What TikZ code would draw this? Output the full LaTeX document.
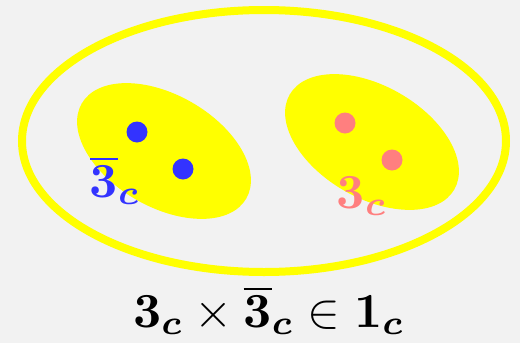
\documentclass[tikz,border=0pt]{standalone}
\usepackage{bm}
\usetikzlibrary{positioning}
\definecolor{paper}{HTML}{F2F2F2}
\definecolor{quarkblue}{HTML}{3333FF}
\definecolor{quarkred}{HTML}{FF7F7F}
\definecolor{blob}{HTML}{FFFF00}

\tikzset{
  quark/.style={circle, fill=#1, inner sep=0pt, minimum size=10.5pt},
  rep/.style={inner sep=0pt, text=#1, scale=2.45},
}

\begin{document}
\begin{tikzpicture}[x=0.5pt, y=-0.5pt]
    \fill[paper] (0,0) rectangle (520,343);
    \useasboundingbox (0,0) rectangle (520,343);

    % singlet outline and the two triplets
    \draw[blob, line width=4pt] (264,141) ellipse [x radius=242, y radius=131];
    \fill[blob, rotate around={-30:(164,151)}] (164,151) ellipse [x radius=95, y radius=56];
    \fill[blob, rotate around={-30:(372,142)}] (372,142) ellipse [x radius=95, y radius=56];

    \node[quark=quarkblue] (b1) at (137,132) {};
    \node[quark=quarkblue] (b2) at (183,169) {};
    \node[quark=quarkred] (r1) at (345,123) {};
    \node[quark=quarkred] (r2) at (392,160) {};

    \node[rep=quarkblue, anchor=base west] (antitrip) at (89,197) {$\overline{\mathbf{3}}_{\bm{c}}$};
    \node[rep=quarkred, anchor=base west] (trip) at (336,208) {$\mathbf{3}_{\bm{c}}$};

    \node[rep=black, anchor=base] (prod) at (269,327)
      {$\mathbf{3}_{\bm{c}} \times \overline{\mathbf{3}}_{\bm{c}} \in \mathbf{1}_{\bm{c}}$};
  \end{tikzpicture}
\end{document}
